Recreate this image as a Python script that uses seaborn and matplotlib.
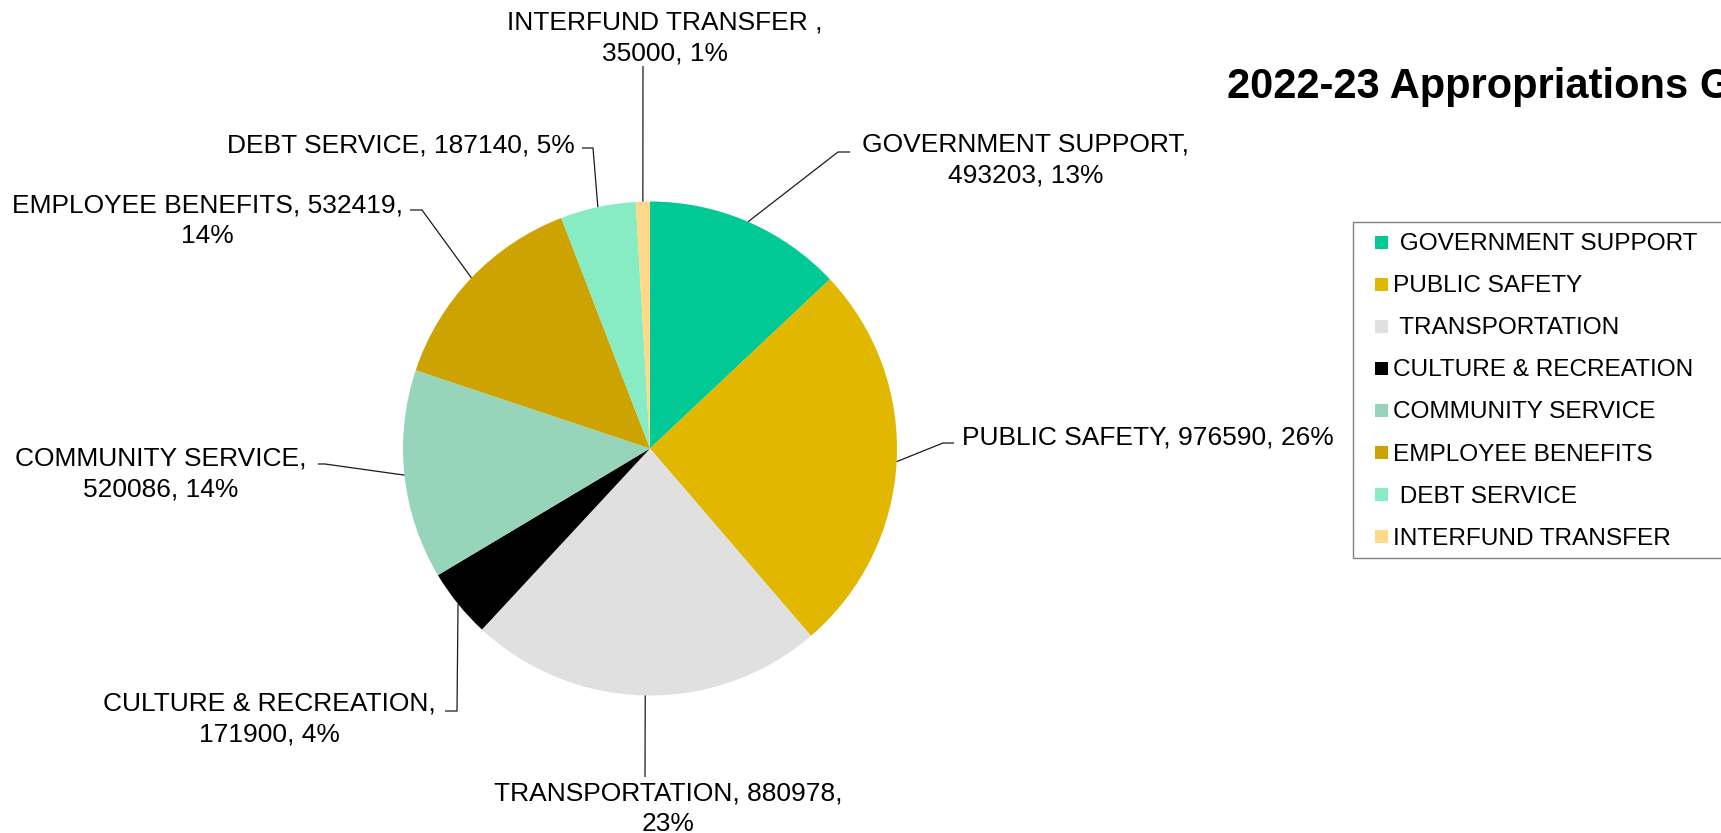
import matplotlib
matplotlib.use("Agg")
import numpy as np
import matplotlib.pyplot as plt
from matplotlib.patches import Rectangle
import seaborn as sns

# ---- data ----
categories = [" GOVERNMENT SUPPORT", "PUBLIC SAFETY", " TRANSPORTATION",
              "CULTURE & RECREATION", "COMMUNITY SERVICE", "EMPLOYEE BENEFITS",
              " DEBT SERVICE", "INTERFUND TRANSFER "]
amounts = [493203, 976590, 880978, 171900, 520086, 532419, 187140, 35000]
pct_shown = [13, 26, 23, 4, 14, 14, 5, 1]
colors = ["#00C996", "#E1B700", "#E0E0E0", "#000000",
          "#96D5B9", "#CCA300", "#87EBC4", "#FFD987"]
title = "2022-23 Appropriations General Fund"

# ---- layout (pixel positions, measured from the top-left) ----
W, H = 1721, 833
pie_center_px = (650, 448.5)
pie_radius_px = 247
label_pos = [(1026, 160), (1148, 437), (668, 809), (269, 719),
             (161, 474), (207, 221), (401, 145), (665, 38)]
label_wrap = ["name", "none", "value", "name", "name", "value", "none", "name"]
leader_pts = [[(850, 152), (838, 152)], [(954, 443), (943, 443)], [(645, 777)],
              [(445, 711), (457, 711)], [(318, 464), (325, 464)],
              [(410, 210), (422, 210)], [(582, 148), (593, 148)], [(643, 66)]]
legend_box = (1353, 222, 558)      # left, top, bottom
legend_row0, legend_step = 242, 42.1

sns.set_theme(style="white")
plt.rcParams["font.family"] = ["Liberation Sans", "DejaVu Sans"]

fig = plt.figure(figsize=(W / 100, H / 100), dpi=100)
ax = fig.add_axes([0, 0, 1, 1])


def Y(y):
    return H - y


palette = sns.color_palette(colors)
cx, cy = pie_center_px[0], Y(pie_center_px[1])
wedges, _ = ax.pie(amounts, colors=palette, startangle=90, counterclock=False,
                   center=(cx, cy), radius=pie_radius_px,
                   wedgeprops=dict(linewidth=0))
ax.set_xlim(0, W)
ax.set_ylim(0, H)
ax.set_aspect("equal")
ax.axis("off")

# data labels with leader lines
for i, w in enumerate(wedges):
    name = categories[i].lstrip()
    val = f"{amounts[i]}"
    pct = f"{pct_shown[i]}%"
    if label_wrap[i] == "name":
        txt = f"{name},\n{val}, {pct}"
    elif label_wrap[i] == "value":
        txt = f"{name}, {val},\n{pct}"
    else:
        txt = f"{name}, {val}, {pct}"
    lx, ly = label_pos[i]
    ax.text(lx, Y(ly), txt, fontsize=19, ha="center", va="center",
            multialignment="center", linespacing=1.32, color="#000000")

    mid = np.deg2rad((w.theta1 + w.theta2) / 2)
    ex = cx + pie_radius_px * np.cos(mid)
    ey = cy + pie_radius_px * np.sin(mid)
    xs = [p[0] for p in leader_pts[i]] + [ex]
    ys = [Y(p[1]) for p in leader_pts[i]] + [ey]
    ax.plot(xs, ys, color="#1a1a1a", lw=0.9, solid_capstyle="butt")

# title
ax.text(1227, Y(98), title, fontsize=30, fontweight="bold",
        ha="left", va="baseline", color="#000000")

# legend
lx0, ltop, lbot = legend_box
ax.add_patch(Rectangle((lx0, Y(lbot)), 420, lbot - ltop, fill=False,
                       edgecolor="#808080", lw=1.0, clip_on=False))
for i, (cat, col) in enumerate(zip(categories, palette)):
    yc = Y(legend_row0 + legend_step * i)
    ax.add_patch(Rectangle((1375, yc - 6.5), 13, 13, facecolor=col,
                           edgecolor="none"))
    ax.text(1393, yc - 2, cat, fontsize=17.6, ha="left", va="center",
            color="#000000")

fig.savefig("out.png", dpi=100)
